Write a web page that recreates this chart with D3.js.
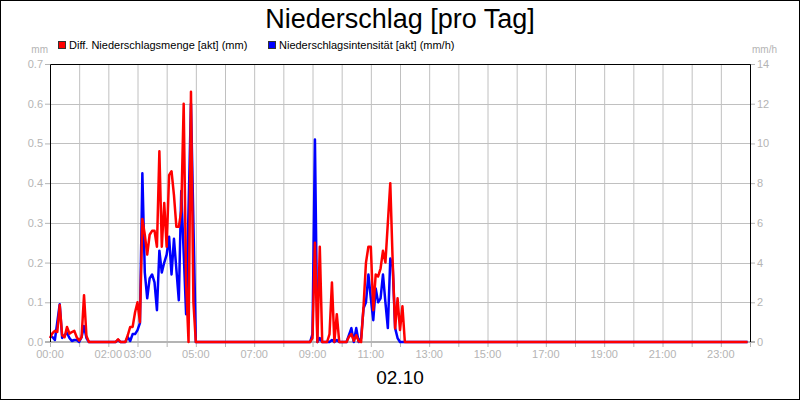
<!DOCTYPE html>
<html>
<head>
<meta charset="utf-8">
<script src="https://cdn.jsdelivr.net/npm/d3@7"></script>
<style>
  body { margin: 0; background: #fff; }
  svg { display: block; font-family: "Liberation Sans", Arial, sans-serif; }
</style>
</head>
<body>
<div id="chart-container"></div>
<script>
// minutes since 00:00, 5 min steps where it rains
const mengeZeit = [0, 5, 10, 15, 20, 25, 30, 35, 40, 45, 50, 55, 60, 65, 70, 75, 80,
  135, 140, 145, 155, 160, 165, 170, 175, 180, 185, 190, 195, 200, 205, 210, 215, 220,
  225, 230, 235, 240, 245, 250, 255, 260, 265, 270, 275, 280, 285, 290, 295, 300,
  535, 540, 545, 550, 555, 560, 570, 575, 580, 585, 590, 595, 610, 615, 620, 625, 630,
  635, 640, 645, 650, 655, 660, 665, 670, 675, 680, 685, 690, 700, 705, 710, 715, 720,
  725, 730, 1435];
// mm
const mengeWert = [0.01, 0.022, 0.028, 0.025, 0.093, 0.017, 0.012, 0.038, 0.021, 0.025, 0.028, 0.012, 0.004, 0.012, 0.118, 0.015, 0,
  0, 0.007, 0, 0, 0.017, 0.038, 0.038, 0.075, 0.1, 0.05, 0.31, 0.27, 0.22, 0.27, 0.28, 0.28, 0.24,
  0.48, 0.24, 0.35, 0.24, 0.42, 0.43, 0.37, 0.29, 0.29, 0.33, 0.6, 0.15, 0, 0.63, 0.1, 0,
  0, 0.01, 0.25, 0, 0.24, 0, 0, 0.02, 0.15, 0, 0.07, 0, 0, 0.013, 0.02, 0.003, 0.017,
  0.002, 0, 0.09, 0.2, 0.24, 0.24, 0.08, 0.17, 0.165, 0.185, 0.23, 0.2, 0.4, 0.2, 0.034, 0.11, 0.03,
  0.09, 0, 0];

const intensZeit = [0, 5, 10, 20, 25, 30, 35, 40, 45, 50, 55, 60, 65, 70, 75, 80,
  135, 140, 145, 155, 160, 165, 170, 175, 180, 185, 190, 195, 200, 205, 210, 215, 220,
  225, 230, 235, 240, 245, 250, 255, 265, 270, 280, 290, 300,
  535, 540, 545, 550, 555, 560, 575, 580, 585, 590, 595, 610, 620, 625, 630, 635,
  640, 645, 650, 655, 660, 665, 670, 675, 680, 685, 690, 695, 700, 705, 710, 715, 720, 1435];
// mm/h
const intensWert = [0.3, 0.25, 0.1, 1.9, 0.2, 0.35, 0.45, 0.2, 0.05, 0.1, 0.1, 0, 0.25, 0.8, 0.2, 0,
  0, 0.1, 0, 0, 0.25, 0.05, 0.4, 0.4, 0.6, 0.95, 8.5, 3.5, 2.2, 3.2, 3.4, 3.0, 1.6,
  4.6, 3.5, 4.0, 4.4, 5.3, 3.4, 5.2, 2.1, 7.6, 1.4, 12, 0,
  0, 0.4, 10.2, 0, 0.2, 0, 0, 0.1, 0, 0.1, 0, 0, 0.7, 0, 0.7, 0,
  0.2, 1.7, 2.0, 3.4, 2.2, 1.1, 2.7, 2.0, 2.2, 3.4, 2.0, 0.7, 4.2, 3.8, 0.7, 0.2, 0, 0];

const xLabels = ["00:00", "02:00", "03:00", "05:00", "07:00", "09:00", "11:00",
  "13:00", "15:00", "17:00", "19:00", "21:00", "23:00"];
const leftTicks = [0, 0.1, 0.2, 0.3, 0.4, 0.5, 0.6, 0.7];
const rightTicks = [0, 2, 4, 6, 8, 10, 12, 14];

const w = 800;
const h = 400;
const grey = "#b4b4b4";

const svg = d3.select("#chart-container")
  .append("svg")
  .attr("width", w)
  .attr("height", h);

const x = d3.scaleLinear().domain([0, 1440]).range([50, 750]);
const yL = d3.scaleLinear().domain([0, 0.7]).range([342, 64]);
const yR = d3.scaleLinear().domain([0, 14]).range([342, 64]);

svg.append("rect")
  .attr("x", 0.5).attr("y", 0.5)
  .attr("width", w - 1).attr("height", h - 1)
  .attr("fill", "#fff").attr("stroke", "#000");

// grid
svg.append("g")
  .selectAll("line")
  .data(d3.range(1, 24))
  .join("line")
  .attr("x1", (d) => x(d * 60) + 0.5).attr("x2", (d) => x(d * 60) + 0.5)
  .attr("y1", 64).attr("y2", 342)
  .attr("stroke", "#c0c0c0");

svg.append("g")
  .selectAll("line")
  .data(leftTicks.slice(1, -1))
  .join("line")
  .attr("x1", 50).attr("x2", 750)
  .attr("y1", (d) => Math.round(yL(d)) + 0.5).attr("y2", (d) => Math.round(yL(d)) + 0.5)
  .attr("stroke", "#c0c0c0");

// left axis
const axL = svg.append("g").attr("transform", "translate(50,0)")
  .call(d3.axisLeft(yL).tickValues(leftTicks).tickFormat(d3.format(".1f")).tickSize(5).tickPadding(2));
axL.select(".domain").remove();
axL.selectAll("line").attr("stroke", grey);
axL.selectAll("text").attr("fill", grey).style("font-size", "11px").style("font-family", "Liberation Sans, Arial, sans-serif");

// right axis
const axR = svg.append("g").attr("transform", "translate(750,0)")
  .call(d3.axisRight(yR).tickValues(rightTicks).tickSize(5).tickPadding(2));
axR.select(".domain").remove();
axR.selectAll("line").attr("stroke", grey);
axR.selectAll("text").attr("fill", grey).style("font-size", "11px").style("font-family", "Liberation Sans, Arial, sans-serif");

// x ticks every hour, labels only some
svg.append("g")
  .selectAll("line")
  .data(d3.range(0, 25))
  .join("line")
  .attr("x1", (d) => x(d * 60) + 0.5).attr("x2", (d) => x(d * 60) + 0.5)
  .attr("y1", 342).attr("y2", 347)
  .attr("stroke", grey);

svg.append("g")
  .selectAll("text")
  .data(xLabels)
  .join("text")
  .attr("x", (d) => x(+d.slice(0, 2) * 60))
  .attr("y", 358)
  .attr("text-anchor", "middle")
  .attr("fill", grey)
  .style("font-size", "11px")
  .text((d) => d);

svg.append("line")
  .attr("x1", 45).attr("x2", 755)
  .attr("y1", 342).attr("y2", 342)
  .attr("stroke", grey).attr("stroke-width", 2);

// series
const intensData = intensZeit.map((t, i) => [t, intensWert[i]]);
const mengeData = mengeZeit.map((t, i) => [t, mengeWert[i]]);

svg.append("path")
  .datum(intensData)
  .attr("fill", "none")
  .attr("stroke", "#0000ff")
  .attr("stroke-width", 2.5)
  .attr("stroke-linejoin", "round")
  .attr("d", d3.line().x((d) => x(d[0])).y((d) => yR(d[1])));

svg.append("path")
  .datum(mengeData)
  .attr("fill", "none")
  .attr("stroke", "#ff0000")
  .attr("stroke-width", 2.5)
  .attr("stroke-linejoin", "round")
  .attr("d", d3.line().x((d) => x(d[0])).y((d) => yL(d[1])));

// plot frame (left, top, right)
svg.append("path")
  .attr("d", "M50.5,342V64.5H750.5V342")
  .attr("fill", "none")
  .attr("stroke", "#000");

// units
svg.append("text").attr("x", 48).attr("y", 53).attr("text-anchor", "end")
  .attr("fill", grey).style("font-size", "10px").text("mm");
svg.append("text").attr("x", 752).attr("y", 53)
  .attr("fill", grey).style("font-size", "10px").text("mm/h");

// title
svg.append("text").attr("x", 400).attr("y", 28).attr("text-anchor", "middle")
  .style("font-size", "27px").text("Niederschlag [pro Tag]");

svg.append("text").attr("x", 400).attr("y", 384).attr("text-anchor", "middle")
  .style("font-size", "19px").text("02.10");

// legend
const legend = [
  { label: "Diff. Niederschlagsmenge [akt] (mm)", color: "#ff0000", x: 58 },
  { label: "Niederschlagsintensität [akt] (mm/h)", color: "#0000ff", x: 268 }
];
const lg = svg.append("g").selectAll("g").data(legend).join("g");
lg.append("rect")
  .attr("x", (d) => d.x + 0.5).attr("y", 41.5)
  .attr("width", 7).attr("height", 7)
  .attr("fill", (d) => d.color)
  .attr("stroke", "#333");
lg.append("text")
  .attr("x", (d) => d.x + 11).attr("y", 49)
  .style("font-size", "11px")
  .text((d) => d.label);
</script>
</body>
</html>
